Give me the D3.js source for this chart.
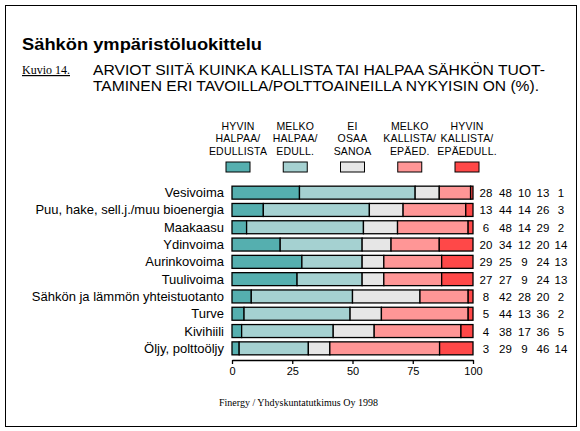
<!DOCTYPE html>
<html>
<head>
<meta charset="utf-8">
<script src="https://cdn.jsdelivr.net/npm/d3@7"></script>
<style>
  body { margin: 0; background: #fff; }
  svg { display: block; }
  text { fill: #000; }
</style>
</head>
<body>
<div id="chart"></div>
<script>
const width = 580;
const height = 431;

// Categories, top to bottom
const categories = [
  "Vesivoima",
  "Puu, hake, sell.j./muu bioenergia",
  "Maakaasu",
  "Ydinvoima",
  "Aurinkovoima",
  "Tuulivoima",
  "Sähkön ja lämmön yhteistuotanto",
  "Turve",
  "Kivihiili",
  "Öljy, polttoöljy"
];

// Answer classes (legend), each line of the label separately
const seriesKeys = ["hh", "mh", "eos", "mk", "hk"];
const seriesLabels = [
  ["HYVIN", "HALPAA/", "EDULLISTA"],
  ["MELKO", "HALPAA/", "EDULL."],
  ["EI", "OSAA", "SANOA"],
  ["MELKO", "KALLISTA/", "EPÄED."],
  ["HYVIN", "KALLISTA/", "EPÄEDULL."]
];
const seriesColors = ["#55afaf", "#a5d1d1", "#e6e6e6", "#ff9696", "#ff4848"];

// Percentages per series, in category order
const hyvinHalpaa   = [28, 13,  6, 20, 29, 27,  8,  5,  4,  3];
const melkoHalpaa   = [48, 44, 48, 34, 25, 27, 42, 44, 38, 29];
const eiOsaaSanoa   = [10, 14, 14, 12,  9,  9, 28, 13, 17,  9];
const melkoKallista = [13, 26, 29, 20, 24, 24, 20, 36, 36, 46];
const hyvinKallista = [ 1,  3,  2, 14, 13, 13,  2,  2,  5, 14];

const xTicks = [0, 25, 50, 75, 100];

// Build rows for the stack
const seriesValues = [hyvinHalpaa, melkoHalpaa, eiOsaaSanoa, melkoKallista, hyvinKallista];
const rows = categories.map((c, i) => {
  const row = { category: c };
  seriesKeys.forEach((k, j) => { row[k] = seriesValues[j][i]; });
  return row;
});

const svg = d3.select("#chart").append("svg")
  .attr("width", width)
  .attr("height", height);

// Outer frame
svg.append("rect")
  .attr("x", 5.5).attr("y", 5.5)
  .attr("width", 571).attr("height", 421)
  .attr("fill", "none")
  .attr("stroke", "#000")
  .attr("stroke-width", 1);

// Titles
svg.append("text")
  .attr("x", 22).attr("y", 50)
  .attr("textLength", 240)
  .attr("lengthAdjust", "spacingAndGlyphs")
  .style("font-family", "'Liberation Sans', Arial, sans-serif")
  .style("font-size", "17px")
  .style("font-weight", "bold")
  .text("Sähkön ympäristöluokittelu");

svg.append("text")
  .attr("x", 22).attr("y", 74)
  .style("font-family", "'Liberation Serif', 'Times New Roman', serif")
  .style("font-size", "12px")
  .style("text-decoration", "underline")
  .text("Kuvio 14.");

const subLines = [
  "ARVIOT SIITÄ KUINKA KALLISTA TAI HALPAA SÄHKÖN TUOT-",
  "TAMINEN ERI TAVOILLA/POLTTOAINEILLA NYKYISIN ON (%)."
];
const subWidths = [452, 446];
svg.selectAll(".sub")
  .data(subLines)
  .enter().append("text")
  .attr("class", "sub")
  .attr("x", 93)
  .attr("y", (d, i) => 75 + i * 15.5)
  .attr("textLength", (d, i) => subWidths[i])
  .attr("lengthAdjust", "spacingAndGlyphs")
  .style("font-family", "'Liberation Sans', Arial, sans-serif")
  .style("font-size", "14px")
  .text(d => d);

// Scales
const x = d3.scaleLinear().domain([0, 100]).range([232, 473]);
const y = d3.scaleBand().domain(categories).range([184, 357])
  .paddingInner(0.25).paddingOuter(0.125);
const color = d3.scaleOrdinal().domain(seriesKeys).range(seriesColors);
const legendX = d3.scalePoint().domain(seriesKeys).range([238, 467]);

// Legend
const legend = svg.selectAll(".legend")
  .data(seriesKeys)
  .enter().append("g")
  .attr("class", "legend")
  .attr("transform", d => `translate(${legendX(d)},0)`);

legend.selectAll("text")
  .data((d, i) => seriesLabels[i])
  .enter().append("text")
  .attr("x", 0)
  .attr("y", (d, i) => 129.5 + i * 12.5)
  .attr("text-anchor", "middle")
  .style("font-family", "'Liberation Sans', Arial, sans-serif")
  .style("font-size", "10.5px")
  .style("letter-spacing", "0.2px")
  .text(d => d);

legend.append("rect")
  .attr("x", -12).attr("y", 162)
  .attr("width", 24).attr("height", 10)
  .attr("fill", d => color(d))
  .attr("stroke", "#000")
  .attr("stroke-width", 1);

// Stacked bars (each row normalised to its own total so bars fill the scale)
const stack = d3.stack()
  .keys(seriesKeys)
  .offset(d3.stackOffsetExpand);
const stacked = stack(rows);

svg.append("g")
  .selectAll("g")
  .data(stacked)
  .enter().append("g")
  .attr("fill", d => color(d.key))
  .selectAll("rect")
  .data(d => d)
  .enter().append("rect")
  .attr("x", d => x(d[0] * 100))
  .attr("y", d => y(d.data.category))
  .attr("width", d => x(d[1] * 100) - x(d[0] * 100))
  .attr("height", y.bandwidth())
  .attr("stroke", "#000")
  .attr("stroke-width", 1.3);

// Category labels
svg.selectAll(".cat")
  .data(categories)
  .enter().append("text")
  .attr("class", "cat")
  .attr("x", 224)
  .attr("y", d => y(d) + y.bandwidth() / 2 + 4.5)
  .attr("text-anchor", "end")
  .style("font-family", "'Liberation Sans', Arial, sans-serif")
  .style("font-size", "13px")
  .text(d => d);

// Value columns to the right of the bars
const valueX = [486, 505.5, 524.5, 543, 561];
rows.forEach(row => {
  svg.append("g")
    .selectAll("text")
    .data(seriesKeys)
    .enter().append("text")
    .attr("x", (k, j) => valueX[j])
    .attr("y", y(row.category) + y.bandwidth() / 2 + 4.5)
    .attr("text-anchor", "middle")
    .style("font-family", "'Liberation Sans', Arial, sans-serif")
    .style("font-size", "11.5px")
    .text(k => row[k]);
});

// X axis
const xAxis = svg.append("g")
  .attr("transform", "translate(0,360)")
  .call(d3.axisBottom(x).tickValues(xTicks).tickSize(4).tickPadding(3).tickSizeOuter(0));
xAxis.select(".domain").attr("stroke", "#000").attr("stroke-width", 1.3);
xAxis.selectAll(".tick line").attr("stroke", "#000").attr("stroke-width", 1.3);
xAxis.selectAll(".tick text")
  .style("font-family", "'Liberation Sans', Arial, sans-serif")
  .style("font-size", "11px")
  .attr("fill", "#000");

// Source
svg.append("text")
  .attr("x", 219).attr("y", 406)
  .style("font-family", "'Liberation Serif', 'Times New Roman', serif")
  .style("font-size", "10px")
  .text("Finergy / Yhdyskuntatutkimus Oy 1998");
</script>
</body>
</html>
